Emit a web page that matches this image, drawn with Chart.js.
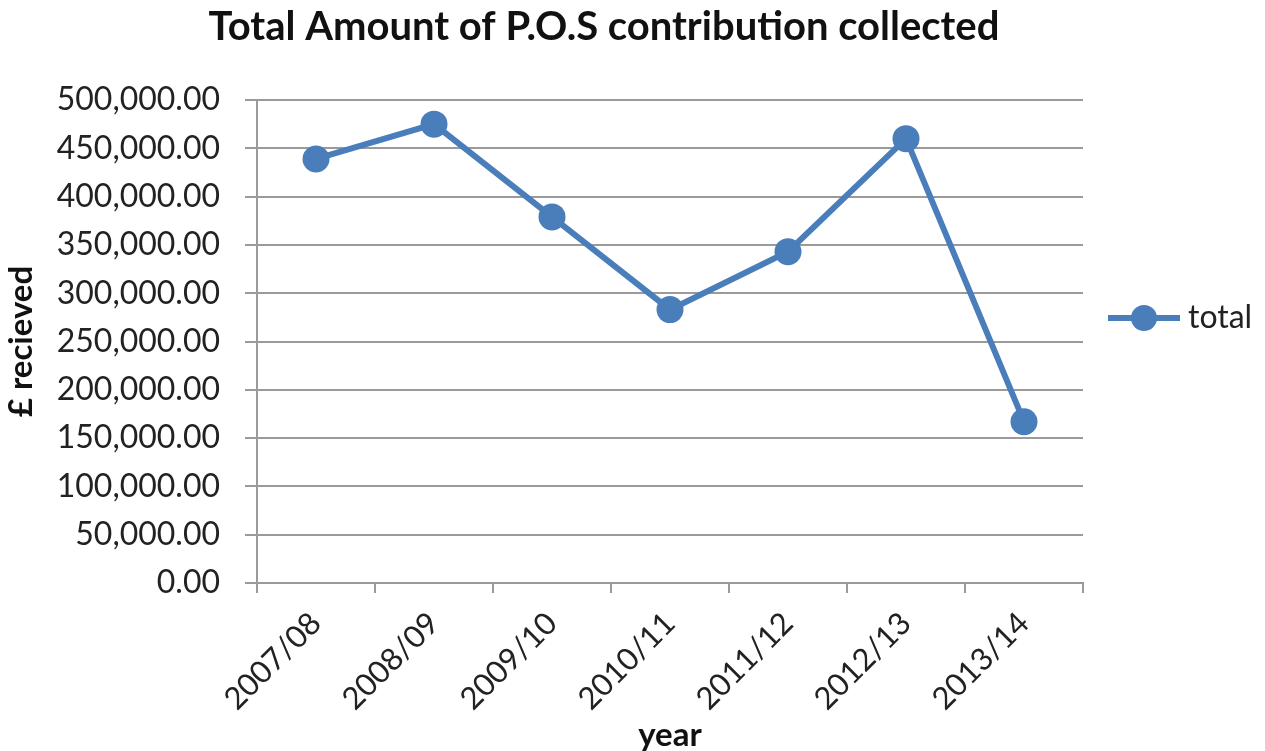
<!DOCTYPE html>
<html>
<head>
<meta charset="utf-8">
<script src="https://cdn.jsdelivr.net/npm/chart.js@4"></script>
<style>
  html, body { margin: 0; padding: 0; background: #fff; }
  canvas { display: block; }
</style>
</head>
<body>
<canvas id="myChart" width="1265" height="751"></canvas>
<script>
// data
var years = ["2007/08", "2008/09", "2009/10", "2010/11", "2011/12", "2012/13", "2013/14"];
var totals = [439000, 475000, 379000, 283000, 343000, 460000, 167000];
var seriesName = "total";

var blue = "#4a7ebb";
var gridColor = "#9a9a9a";
var textColor = "#222";

// legend drawn by hand so it has the line-through-circle marker
var legendPlugin = {
  id: "lineLegend",
  afterDraw: function (chart) {
    var ctx = chart.ctx;
    var ds = chart.data.datasets[0];
    var y = 318;
    ctx.save();
    ctx.strokeStyle = ds.borderColor;
    ctx.lineWidth = 6;
    ctx.beginPath();
    ctx.moveTo(1108, y);
    ctx.lineTo(1180, y);
    ctx.stroke();
    ctx.fillStyle = ds.borderColor;
    ctx.beginPath();
    ctx.arc(1144, y, 13, 0, Math.PI * 2);
    ctx.fill();
    ctx.fillStyle = textColor;
    ctx.font = "32px Lato";
    ctx.textBaseline = "middle";
    ctx.fillText(ds.label, 1188, y);
    ctx.restore();
  },
};

var chart = new Chart("myChart", {
  type: "line",
  data: {
    labels: years,
    datasets: [
      {
        label: seriesName,
        data: totals,
        borderColor: blue,
        backgroundColor: blue,
        borderWidth: 6,
        pointRadius: 13.5,
        pointBorderWidth: 0,
        tension: 0,
      },
    ],
  },
  options: {
    responsive: false,
    animation: false,
    layout: { padding: { left: 0, right: 57, top: 0, bottom: 0 } },
    plugins: {
      legend: { display: false },
      tooltip: { enabled: false },
      title: {
        display: true,
        text: "Total Amount of P.O.S contribution collected",
        color: "#111",
        font: { family: "Lato", size: 40, weight: "bold" },
        padding: { top: 3, bottom: 49 },
      },
    },
    scales: {
      x: {
        offset: true,
        afterFit: function (scale) {
          scale.height = 168;
        },
        grid: {
          offset: true,
          drawOnChartArea: false,
          drawTicks: true,
          tickLength: 10,
          color: gridColor,
          lineWidth: 2,
        },
        border: { color: gridColor, width: 2 },
        ticks: {
          color: textColor,
          font: { family: "Lato", size: 31 },
          maxRotation: 45,
          minRotation: 45,
          padding: 12,
        },
        title: {
          display: true,
          text: "year",
          color: "#111",
          font: { family: "Lato", size: 33, weight: "bold" },
          padding: { top: 0, bottom: -4 },
        },
      },
      y: {
        min: 0,
        max: 500000,
        afterFit: function (scale) {
          scale.width = 257;
        },
        grid: {
          color: gridColor,
          lineWidth: 2,
          tickLength: 12,
        },
        border: { color: gridColor, width: 2 },
        ticks: {
          stepSize: 50000,
          color: textColor,
          font: { family: "Lato", size: 32 },
          padding: 25,
          callback: function (v) {
            return v.toLocaleString("en-GB", { minimumFractionDigits: 2, maximumFractionDigits: 2 });
          },
        },
        title: {
          display: true,
          text: "£ recieved",
          color: "#111",
          font: { family: "Lato", size: 33, weight: "bold" },
          padding: 2,
        },
      },
      // empty axis on the right, only keeps room for the legend
      room: {
        axis: "y",
        position: "right",
        afterFit: function (scale) {
          scale.width = 125;
        },
        grid: { display: false },
        border: { display: false },
        ticks: { display: false },
      },
    },
  },
  plugins: [legendPlugin],
});
</script>
</body>
</html>
